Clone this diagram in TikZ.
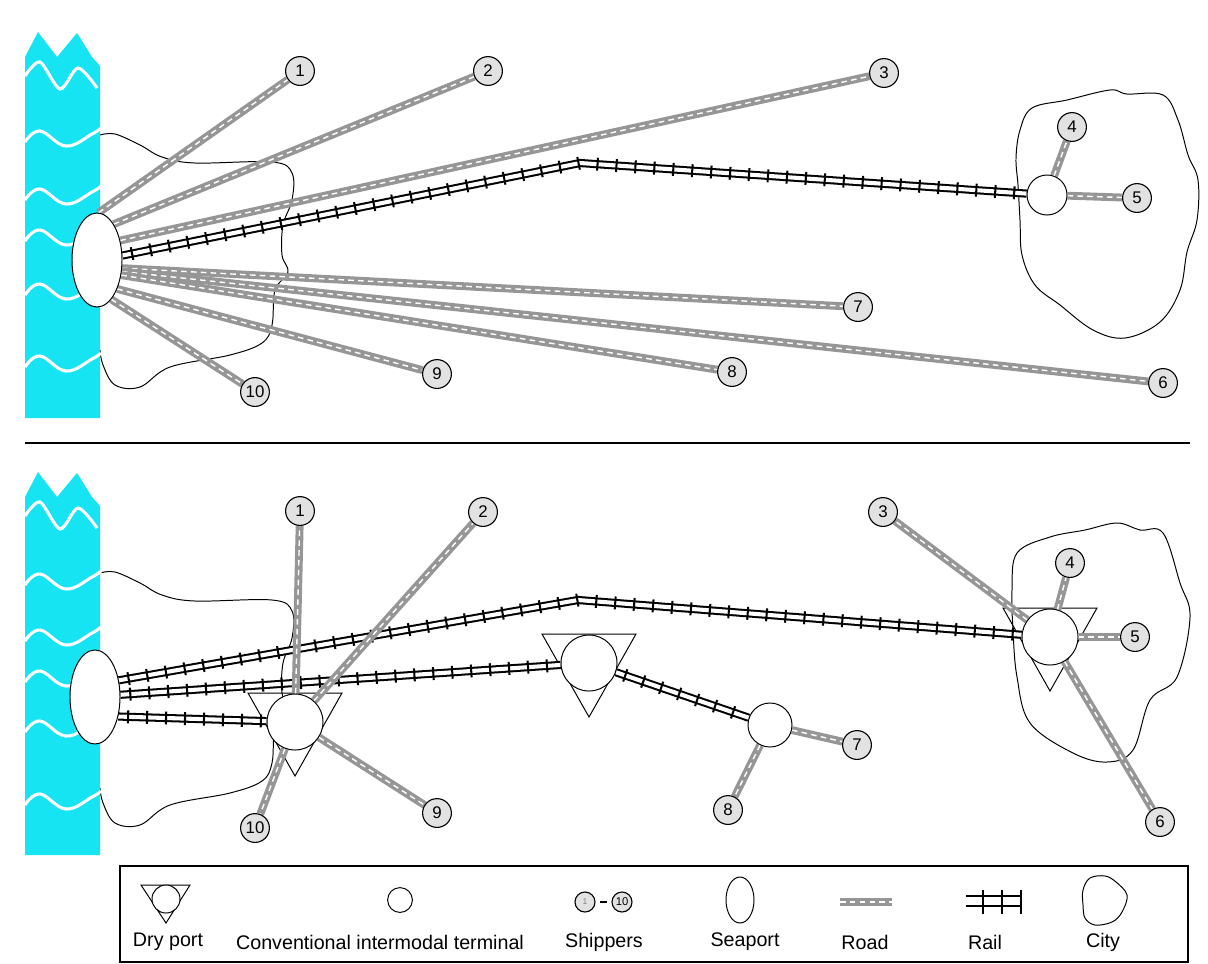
\documentclass[tikz,border=0pt]{standalone}
\usepackage{fontspec}
\setmainfont{Liberation Sans}
\usetikzlibrary{shapes.geometric,decorations.markings}
\pgfdeclarelayer{bg}
\pgfdeclarelayer{mid}
\pgfsetlayers{bg,mid,main}
\definecolor{seacyan}{RGB}{22,228,242}
\definecolor{roadgray}{RGB}{150,150,150}
\definecolor{shipfill}{RGB}{226,226,226}
\newcommand{\seawave}[1]{\draw[wave] plot[smooth,tension=0.7] coordinates {(25,#1+5) (40,#1-6) (66,#1+9) (92,#1-3) (101,#1-9)};}
\newcommand{\drytri}[1]{\draw[tri] ([shift={(-47,-29)}]#1.center) -- ([shift={(47,-29)}]#1.center) -- ([shift={(0,54)}]#1.center) -- cycle;}
\begin{document}
\begin{tikzpicture}[x=0.025cm,y=-0.025cm,
 shipper/.style={circle,draw,line width=0.8pt,fill=shipfill,minimum size=0.72cm,inner sep=0pt,font=\fontsize{12}{12}\selectfont},
 terminal/.style={circle,draw,line width=0.7pt,fill=white,inner sep=0pt},
 drycirc/.style={circle,draw,line width=0.7pt,fill=white,minimum size=1.4cm,inner sep=0pt},
 seaport/.style={ellipse,draw,line width=0.7pt,fill=white,minimum width=1.25cm,minimum height=2.35cm,inner sep=0pt},
 road/.style={draw=roadgray,line width=5.6pt,postaction={draw=white,line width=1pt,dash pattern=on 4pt off 3pt}},
 rail/.style={draw=black,line width=1.45pt,double=white,double distance=2.9pt,postaction={decorate,decoration={markings,mark=between positions 7pt and 1 step 13.5pt with {\draw[line width=1.45pt,black] (0pt,-4.6pt) -- (0pt,4.6pt);}}}},
 blob/.style={draw,line width=0.7pt},
 tri/.style={draw,line width=0.7pt},
 wave/.style={white,line width=2.2pt},
 legendtext/.style={font=\fontsize{14}{16}\selectfont}
]
\useasboundingbox (0,0) rectangle (1208,963);

% ---------------- background: port areas, cities, sea ----------------
\begin{pgfonlayer}{bg}
\draw[blob] plot[smooth,tension=0.6] coordinates {(100,135) (115,134) (140,145) (162,157) (195,163) (272,162) (292,173) (292,200) (283,225) (282,255) (288,272) (275,290) (272,325) (262,343) (230,355) (170,367) (140,387) (115,385) (103,365) (100,350)};
\draw[blob] plot[smooth,tension=0.6] coordinates {(100,573) (115,572) (140,583) (162,595) (195,601) (272,600) (292,611) (292,638) (283,663) (282,693) (288,710) (275,728) (272,763) (262,781) (230,793) (170,805) (140,825) (115,823) (103,803) (100,788)};
\draw[blob] plot[smooth cycle,tension=0.6] coordinates {(1020,130) (1032,108) (1067,100) (1110,90) (1127,94) (1163,95) (1178,120) (1188,155) (1198,180) (1197,220) (1187,252) (1180,290) (1160,322) (1125,338) (1093,330) (1060,305) (1035,285) (1022,255) (1020,220) (1018,185) (1016,158)};
\draw[blob] plot[smooth cycle,tension=0.6] coordinates {(1017,553) (1050,537) (1085,530) (1117,523) (1140,530) (1163,533) (1180,583) (1190,617) (1177,677) (1150,700) (1133,750) (1107,762) (1073,753) (1030,723) (1017,677) (1013,630) (1012,590)};
\fill[seacyan] (25,418) -- (25,57) -- (38,32) -- (57,57) -- (77,33) -- (92,57) -- (100,66) -- (100,418) -- cycle;
\fill[seacyan] (25,855) -- (25,497) -- (38,472) -- (57,497) -- (77,473) -- (92,497) -- (100,506) -- (100,855) -- cycle;
\draw[wave] plot[smooth,tension=0.5] coordinates {(25,76) (40,62) (60,89) (78,68) (97,88)};
\seawave{137}\seawave{195}\seawave{236}\seawave{290}\seawave{362}
\draw[wave] plot[smooth,tension=0.5] coordinates {(25,516) (40,502) (60,529) (78,508) (97,528)};
\seawave{580}\seawave{636}\seawave{677}\seawave{727}\seawave{800}
\end{pgfonlayer}

% ---------------- nodes: top panel ----------------
\node[seaport] (sp1) at (97,260) {};
\node[terminal,minimum size=1cm] (t1) at (1047,195) {};
\coordinate (bend1) at (580,163);
\node[shipper] (a1) at (300,71) {1};
\node[shipper] (a2) at (488,71) {2};
\node[shipper] (a3) at (884,73) {3};
\node[shipper] (a4) at (1072,127) {4};
\node[shipper] (a5) at (1137,198) {5};
\node[shipper] (a6) at (1163,383) {6};
\node[shipper] (a7) at (858,307) {7};
\node[shipper] (a8) at (732,372) {8};
\node[shipper] (a9) at (437,374) {9};
\node[shipper] (a10) at (255,392) {10};

% ---------------- nodes: bottom panel ----------------
\node[seaport] (sp2) at (95,697) {};
\node[drycirc] (dp1) at (295,722) {};
\node[drycirc] (dp2) at (589,663) {};
\node[drycirc] (dp3) at (1050,637) {};
\node[terminal,minimum size=1.1cm] (t2) at (770,725) {};
\coordinate (bend2) at (578,600);
\node[shipper] (b1) at (300,511) {1};
\node[shipper] (b2) at (483,512) {2};
\node[shipper] (b3) at (883,512) {3};
\node[shipper] (b4) at (1070,563) {4};
\node[shipper] (b5) at (1135,637) {5};
\node[shipper] (b6) at (1160,822) {6};
\node[shipper] (b7) at (857,745) {7};
\node[shipper] (b8) at (728,810) {8};
\node[shipper] (b9) at (437,813) {9};
\node[shipper] (b10) at (255,828) {10};

% ---------------- connectors ----------------
\begin{pgfonlayer}{mid}
\drytri{dp1}\drytri{dp2}\drytri{dp3}
% top
\draw[road] (sp1.88) -- (a1);
\draw[road] (sp1.65) -- (a2);
\draw[road] (sp1.40) -- (a3);
\draw[road] (sp1.-18) -- (a7);
\draw[road] (sp1.-25) -- (a6);
\draw[road] (sp1.-32) -- (a8);
\draw[road] (sp1.-55) -- (a9);
\draw[road] (sp1.-70) -- (a10);
\draw[road] (t1) -- (a4);
\draw[road] (t1) -- (a5);
\draw[rail] (sp1.10) -- (bend1) -- (t1);
% bottom
\draw[rail] (sp2.35) -- (bend2) -- (dp3);
\draw[rail] (sp2.5) -- (dp2);
\draw[rail] (sp2.-40) -- (dp1);
\draw[rail] (dp2) -- (t2);
\draw[road] (dp1) -- (b1);
\draw[road] (dp1) -- (b2);
\draw[road] (dp1) -- (b9);
\draw[road] (dp1) -- (b10);
\draw[road] (dp3) -- (b3);
\draw[road] (dp3) -- (b4);
\draw[road] (dp3) -- (b5);
\draw[road] (dp3) -- (b6);
\draw[road] (t2) -- (b7);
\draw[road] (t2) -- (b8);
\end{pgfonlayer}

% separator
\coordinate (sepL) at (25,443);
\coordinate (sepR) at (1190,443);
\draw[line width=0.9pt] (sepL) -- (sepR);

% ---------------- legend ----------------
\draw[line width=1.1pt] (120,866) rectangle (1188,962);
\draw[tri] (141,885) -- (190,885) -- (166,923) -- cycle;
\node[circle,draw,line width=0.7pt,fill=white,minimum size=0.7cm,inner sep=0pt] (ldc) at (166,899) {};
\node[circle,draw,line width=0.7pt,minimum size=0.62cm,inner sep=0pt] (ltc) at (400,900) {};
\node[shipper,minimum size=0.5cm,font=\fontsize{6}{6}\selectfont] (ls1) at (585,902) {\textcolor{gray}{1}};
\node[shipper,minimum size=0.5cm,font=\fontsize{8}{8}\selectfont] (ls10) at (622,902) {10};
\draw[line width=2pt,shorten >=3pt,shorten <=3pt] (ls1) -- (ls10);
\node[ellipse,draw,line width=0.7pt,minimum width=0.7cm,minimum height=1.15cm,inner sep=0pt] (lsp) at (740,900) {};
\coordinate (lr1) at (840,902);
\coordinate (lr2) at (892,902);
\draw[road] (lr1) -- (lr2);
\draw[line width=1.1pt] (966,896) -- (1022,896) (966,906) -- (1022,906) (983,890) -- (983,914) (1002,890) -- (1002,914) (1021,890) -- (1021,914);
\draw[blob] plot[smooth cycle,tension=0.6] coordinates {(1083,890) (1090,878) (1105,876) (1116,882) (1127,895) (1122,912) (1112,922) (1095,925) (1085,918) (1083,905)};
\node[legendtext] (lg1) at (168,942) {Dry port};
\node[legendtext] (lg2) at (380,942) {Conventional intermodal terminal};
\node[legendtext] (lg3) at (604,942) {Shippers};
\node[legendtext] (lg4) at (745,942) {Seaport};
\node[legendtext] (lg5) at (865,942) {Road};
\node[legendtext] (lg6) at (985,942) {Rail};
\node[legendtext] (lg7) at (1103,942) {City};
\end{tikzpicture}
\end{document}
